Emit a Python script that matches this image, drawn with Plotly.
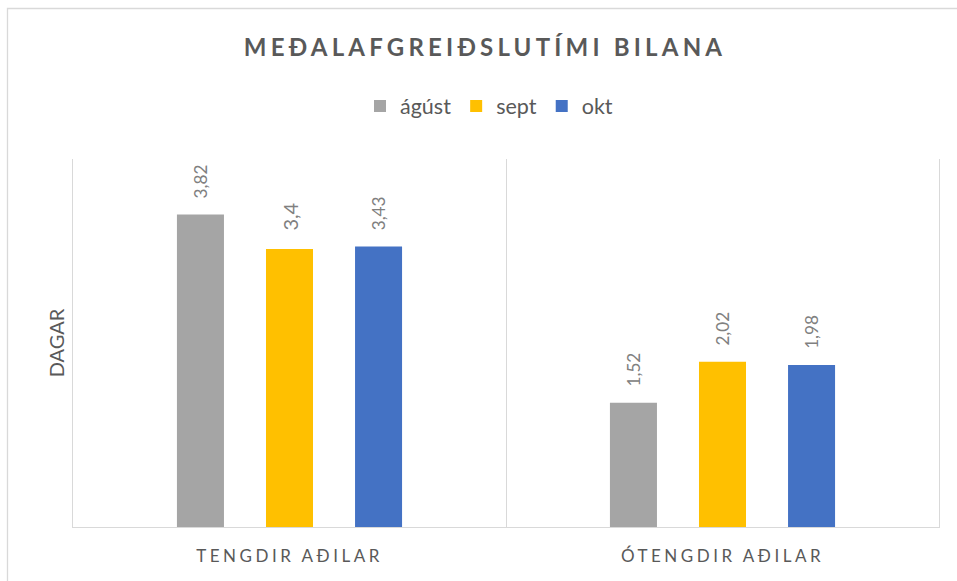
import plotly.graph_objects as go

categories = ["TENGDIR AÐILAR", "ÓTENGDIR AÐILAR"]
series_names = ["ágúst", "sept", "okt"]
values_agust = [3.82, 1.52]
values_sept = [3.4, 2.02]
values_okt = [3.43, 1.98]
value_labels_agust = ["3,82", "1,52"]
value_labels_sept = ["3,4", "2,02"]
value_labels_okt = ["3,43", "1,98"]
colors = ["#A5A5A5", "#FFC000", "#4472C4"]

FONT = "Lato"
NB = "\u00a0\u00a0\u00a0"

fig = go.Figure()
for name, vals, labs, col in zip(series_names,
                                 [values_agust, values_sept, values_okt],
                                 [value_labels_agust, value_labels_sept, value_labels_okt],
                                 colors):
    fig.add_trace(go.Bar(
        x=categories, y=vals, name=name,
        marker=dict(color=col, line=dict(width=0)),
        text=[NB + t for t in labs],
        textposition="outside", textangle=-90,
        textfont=dict(family=FONT, size=20, color="#808080"),
        cliponaxis=False,
        hoverinfo="skip",
    ))

ticktext = ['<span style="letter-spacing:3.5px">%s</span>' % c for c in categories]

W, H = 957, 581
ml, mr, mt, mb = 73, 18, 159, 54
pw, ph = W - ml - mr, H - mt - mb

def px_x(x):
    return (x - ml) / pw

def px_y(y):
    return (H - mb - y) / ph

fig.update_layout(
    width=W, height=H,
    margin=dict(l=ml, r=mr, t=mt, b=mb, autoexpand=False),
    paper_bgcolor="white", plot_bgcolor="white",
    barmode="group", bargap=0.383, bargroupgap=0.472,
    title=dict(
        text='<span style="letter-spacing:4.2px"><b>MEÐALAFGREIÐSLUTÍMI BILANA</b></span>',
        xref="container", x=485 / W, xanchor="center", y=1 - 48 / H, yanchor="middle",
        font=dict(family=FONT, size=24, color="#595959"),
    ),
    showlegend=True,
    legend=dict(
        orientation="h", x=px_x(489), xanchor="center", y=px_y(106), yanchor="middle",
        font=dict(family=FONT, size=21.5, color="#595959"),
        itemwidth=30, traceorder="normal",
    ),
    xaxis=dict(
        type="category", tickson="boundaries", showgrid=True, gridcolor="#D9D9D9", gridwidth=1.3,
        showline=True, linecolor="#D9D9D9", linewidth=1.3,
        ticks="", tickmode="array", tickvals=categories, ticktext=ticktext,
        tickfont=dict(family=FONT, size=17, color="#595959"),
        ticklabelstandoff=13,
        range=[-0.5, 1.5], fixedrange=True, zeroline=False,
    ),
    yaxis=dict(
        range=[0, 4.5], showgrid=False, zeroline=False, showticklabels=False, ticks="",
        showline=True, mirror=True, linecolor="#D9D9D9", linewidth=1.3,
        title=dict(text="DAGAR", standoff=1, font=dict(family=FONT, size=20, color="#595959")),
        automargin=False, fixedrange=True,
    ),
    shapes=[dict(
        type="rect", xref="paper", yref="paper",
        x0=px_x(7.5), x1=px_x(970), y0=px_y(600), y1=px_y(8.5),
        line=dict(color="#D9D9D9", width=1.3), fillcolor="rgba(0,0,0,0)", layer="below",
    )],
)

fig.write_html("out.html", config={"displayModeBar": False},
               post_script="document.body.style.margin='0';")
